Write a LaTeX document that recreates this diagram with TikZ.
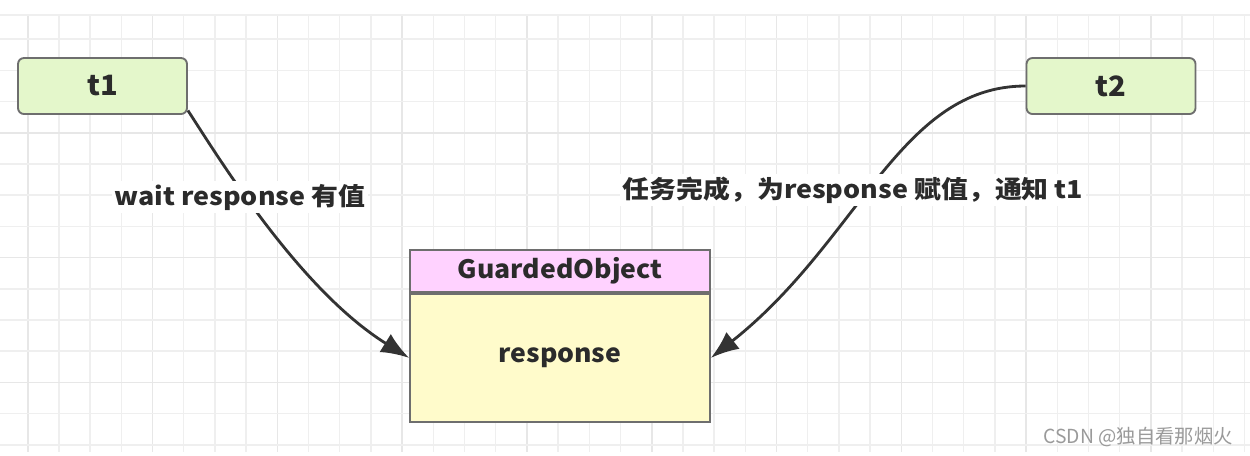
\documentclass[tikz,border=0pt]{standalone}
\usepackage{fontspec}
\setmainfont{Noto Sans CJK SC}
\usetikzlibrary{arrows.meta}
\definecolor{gridminor}{HTML}{EFEFEF}
\definecolor{gridmajor}{HTML}{E7E7E7}
\definecolor{threadfill}{HTML}{E4F7CB}
\definecolor{boxline}{HTML}{6E6E6E}
\definecolor{headfill}{HTML}{FFD2FF}
\definecolor{bodyfill}{HTML}{FFFBCB}
\definecolor{ink}{HTML}{333333}
\definecolor{txt}{HTML}{2B2B2B}
\definecolor{mark}{HTML}{9A9A9A}
\begin{document}
\begin{tikzpicture}[x=0.75pt,y=-0.75pt,
  minorline/.style={gridminor,line width=1.1pt},
  majorline/.style={gridmajor,line width=1.2pt},
  thread/.style={draw=boxline,line width=1.4pt,fill=threadfill,rounded corners=4.5pt,
    minimum width=126.75pt,minimum height=42pt,inner sep=0pt,
    font=\fontsize{21}{24}\selectfont\bfseries\addfontfeature{FakeStretch=1.04},text=txt},
  head/.style={draw=boxline,line width=1.4pt,fill=headfill,
    minimum width=225pt,minimum height=31.5pt,inner sep=0pt,
    font=\fontsize{19}{22}\selectfont\bfseries\addfontfeature{FakeStretch=1.05},text=txt},
  body/.style={draw=boxline,line width=1.4pt,fill=bodyfill,
    minimum width=225pt,minimum height=96pt,inner sep=0pt,
    font=\fontsize{19}{22}\selectfont\bfseries\addfontfeature{FakeStretch=1.05},text=txt},
  lbl/.style={fill=white,inner sep=2pt,font=\fontsize{18.5}{21}\selectfont\bfseries\addfontfeature{FakeStretch=1.09},text=txt},
  conn/.style={ink,line width=2.1pt,-{Latex[length=21pt,width=16pt]}},
  wmark/.style={font=\fontsize{14.5}{16}\selectfont,text=mark,inner sep=0pt}
]
\useasboundingbox (0,0) rectangle (1250,455);
\fill[white] (0,0) rectangle (1250,455);
% grid
\foreach \i in {0,...,40}{
  \pgfmathtruncatemacro{\m}{mod(\i+3,4)}
  \ifnum\m=0
    \draw[majorline] (-3.5+31.2*\i,15) -- (-3.5+31.2*\i,452);
  \else
    \draw[minorline] (-3.5+31.2*\i,15) -- (-3.5+31.2*\i,452);
  \fi
}
\foreach \k in {1,...,14}{
  \pgfmathtruncatemacro{\m}{mod(\k,4)}
  \ifnum\m=0
    \draw[majorline] (0,8+31.2*\k) -- (1250,8+31.2*\k);
  \else
    \draw[minorline] (0,8+31.2*\k) -- (1250,8+31.2*\k);
  \fi
}
\draw[minorline] (0,15) -- (1250,15);
% nodes
\node[thread] (t1) at (102.5,86) {t1};
\node[thread] (t2) at (1111,86) {t2};
\node[head] (go) at (560,271) {GuardedObject};
\node[body,anchor=north] (resp) at (go.south) {response};
% connectors
\draw[conn] (t1.-16) .. controls (220,160) and (300,290) .. (resp.west);
\draw[conn] (t2.west) .. controls (900,86) and (860,240) .. (resp.east);
% labels
\node[lbl] (l1) at (240,197) {wait response 有值};
\node[lbl] (l2) at (853,190) {任务完成，为response 赋值，通知 t1};
% watermark
\node[wmark,anchor=east] (wm) at (1233,437) {CSDN @独自看那烟火};
\end{tikzpicture}
\end{document}
